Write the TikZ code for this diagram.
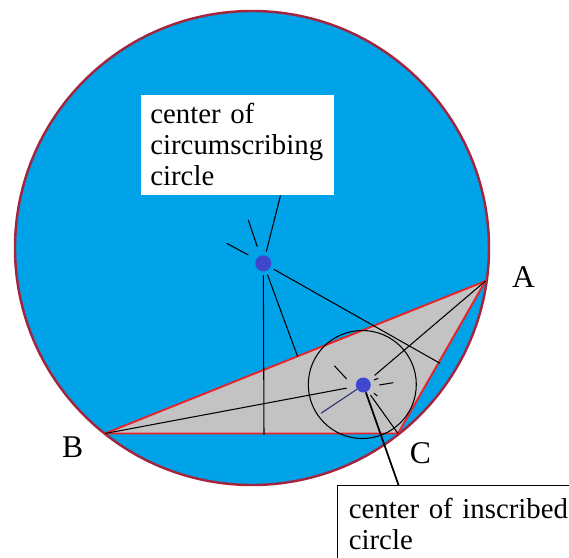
\documentclass[tikz,border=0pt]{standalone}
\usepackage{fontspec}
\setmainfont{Liberation Serif}
\definecolor{skyfill}{RGB}{0,162,232}
\definecolor{rimred}{RGB}{163,38,62}
\definecolor{sidered}{RGB}{232,36,40}
\definecolor{trigray}{RGB}{195,195,195}
\definecolor{dotblue}{RGB}{63,72,204}
\tikzset{
    centredot/.style={circle, fill=dotblue, inner sep=0pt, minimum size=0.32cm},
    labelbox/.style={anchor=north west, fill=white, align=left, font=\fontsize{16.4pt}{17.7pt}\selectfont},
    vertexname/.style={anchor=base, font=\fontsize{18pt}{20pt}\selectfont},
    thinline/.style={line width=0.6pt}
}
\begin{document}
\begin{tikzpicture}[x=0.02cm, y=-0.02cm]
    \useasboundingbox (0,0) rectangle (569,558);

    % Circumscribing circle
    \draw[fill=skyfill, draw=rimred, line width=1.4pt] (252,248) circle[radius=237];

    % Triangle ABC
    \coordinate (A) at (485.5,281);
    \coordinate (B) at (105,433.5);
    \coordinate (C) at (398,433.5);
    \draw[fill=trigray, draw=sidered, line width=1.1pt, line join=round] (A) -- (B) -- (C) -- cycle;

    % Inscribed circle
    \coordinate (Ic) at (362.3,384.5);
    \draw[thinline] (Ic) circle[radius=54];

    % The two centres
    \node[centredot, outer sep=0.08cm] (O) at (263.3,263.3) {};
    \node[centredot, minimum size=0.3cm] (I) at (363.3,385) {};

    % Label boxes
    \node[labelbox, text width=3.5cm, inner xsep=0.18cm, minimum height=2.01cm] (circlabel) at (141,94.3)
        {center of\\circumscribing\\circle};
    \node[labelbox, draw=black, line width=0.6pt, text width=5cm, inner xsep=0.232cm, inner ysep=0.26cm] (inlabel) at (336.7,485)
        {center of inscribed\\circle};

    % Lines from the circumcentre
    \coordinate (t1) at (280.5,195.5);
    \coordinate (fBC) at (264,434.5);
    \coordinate (fAB) at (297.7,356.7);
    \coordinate (fAC) at (440,363.3);
    \draw[thinline] (O) -- (t1);
    \draw[thinline] (O) -- (fBC);
    \draw[thinline] (O) -- (fAB);
    \draw[thinline] (O) -- (fAC);
    \draw[thinline] (248.3,220) -- (257.3,246.7);
    \draw[thinline] (226.7,243.3) -- (248.3,255);

    % Lines from the incentre
    \coordinate (r1) at (321,413.3);
    \coordinate (t2) at (398.5,485);
    \draw[thinline, shorten >=0.18cm] (B) -- (I);
    \draw[thinline, shorten <=0.14cm] (I) -- (A);
    \draw[thinline, shorten <=0.09cm] (I) -- (C);
    \draw[thinline, draw=dotblue!60!black] (I) -- (r1);
    \draw[line width=1pt] (I) -- (t2);
    \draw[thinline] (334.3,365.7) -- (346.7,379);
    \draw[thinline] (379.3,385) -- (393.3,382.7);
    \draw[thinline] (374,380) -- (378.3,378.3);
    \draw[thinline] (374,393.3) -- (377.3,396);

    % Vertex names
    \node[vertexname] (lblA) at (523.5,287.5) {A};
    \node[vertexname] (lblB) at (72.7,457.3) {B};
    \node[vertexname] (lblC) at (420.5,463) {C};
\end{tikzpicture}
\end{document}
